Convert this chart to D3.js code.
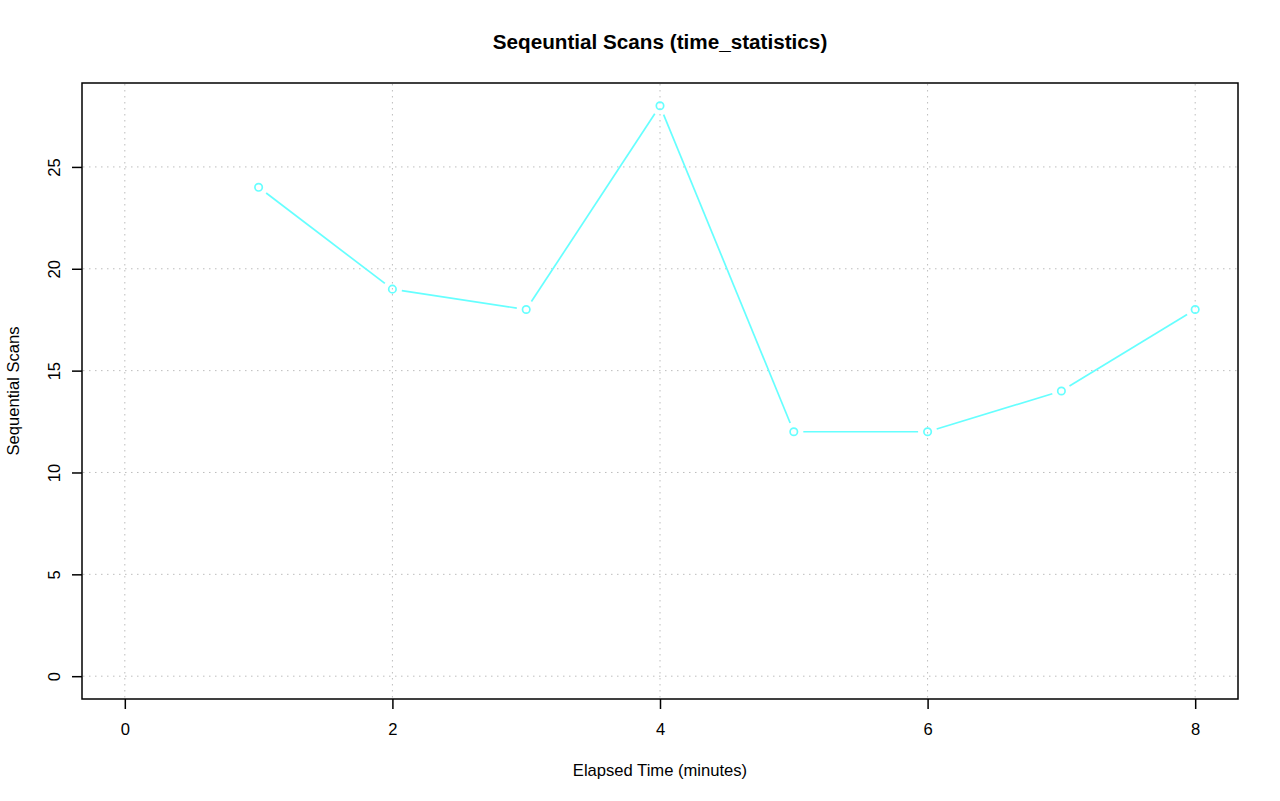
<!DOCTYPE html>
<meta charset="utf-8">
<style>
    body { margin: 0; background: #fff; }
    text { font-family: "Liberation Sans", Arial, Helvetica, sans-serif; fill: #000; }
    .grid line { stroke: #bdbdbd; stroke-width: 1; stroke-dasharray: 1.5,4.5; }
</style>
<svg width="1280" height="801"></svg>
<script src="https://cdn.jsdelivr.net/npm/d3@7"></script>
<script>

    // values
    var minutes = [1, 2, 3, 4, 5, 6, 7, 8];
    var scans = [24, 19, 18, 28, 12, 12, 14, 18];
    var xTicks = [0, 2, 4, 6, 8];
    var yTicks = [0, 5, 10, 15, 20, 25];

    const LINE_COLOR = "#66ffff";
    const POINT_RADIUS = 3.7;
    const GAP = 9.5;   // type="b" leaves a gap around every point
    const FONT_SIZE = 16.6;

    var svg = d3.select("svg");
    var box = {left: 82, right: 1238, top: 83, bottom: 699};

    // R extends the range by 4% on each side
    var x = d3.scaleLinear().domain([-0.32, 8.32]).range([box.left, box.right]);
    var y = d3.scaleLinear().domain([-1.12, 29.12]).range([box.bottom, box.top]);

    // dotted grid
    var grid = svg.append("g").attr("class", "grid");
    grid.selectAll("line.v")
        .data(xTicks)
        .enter().append("line")
        .attr("x1", function (d) { return x(d); })
        .attr("x2", function (d) { return x(d); })
        .attr("y1", box.top + 1)
        .attr("y2", box.bottom - 1);
    grid.selectAll("line.h")
        .data(yTicks)
        .enter().append("line")
        .attr("y1", function (d) { return y(d); })
        .attr("y2", function (d) { return y(d); })
        .attr("x1", box.left + 1)
        .attr("x2", box.right - 1);

    // axes (ticks + labels only, the box is drawn separately)
    var xAxis = svg.append("g")
        .attr("transform", "translate(0," + box.bottom + ")")
        .call(d3.axisBottom(x).tickValues(xTicks).tickSize(10).tickFormat(d3.format("d")));
    var yAxis = svg.append("g")
        .attr("transform", "translate(" + box.left + ",0)")
        .call(d3.axisLeft(y).tickValues(yTicks).tickSize(10).tickFormat(d3.format("d")));

    [xAxis, yAxis].forEach(function (a) {
        a.select(".domain").remove();
        a.selectAll(".tick line").attr("stroke", "#000").attr("stroke-width", 1.5);
        a.selectAll(".tick text")
            .attr("font-family", "Liberation Sans, Arial, sans-serif")
            .attr("font-size", FONT_SIZE);
    });

    xAxis.selectAll(".tick text").attr("dy", null).attr("y", 36);

    yAxis.selectAll(".tick text")
        .attr("x", null).attr("dy", null)
        .attr("text-anchor", "middle")
        .attr("transform", "translate(-22,0) rotate(-90)");

    // the plot box
    svg.append("rect")
        .attr("x", box.left)
        .attr("y", box.top)
        .attr("width", box.right - box.left)
        .attr("height", box.bottom - box.top)
        .attr("fill", "none")
        .attr("stroke", "#000")
        .attr("stroke-width", 1.5);

    // line segments with gaps at the points
    var pts = minutes.map(function (m, i) { return [x(m), y(scans[i])]; });
    var segs = d3.pairs(pts).map(function (p) {
        var dx = p[1][0] - p[0][0], dy = p[1][1] - p[0][1];
        var len = Math.sqrt(dx * dx + dy * dy);
        var ux = dx / len, uy = dy / len;
        return [p[0][0] + ux * GAP, p[0][1] + uy * GAP, p[1][0] - ux * GAP, p[1][1] - uy * GAP];
    });

    svg.append("g")
        .selectAll("line")
        .data(segs)
        .enter().append("line")
        .attr("x1", function (d) { return d[0]; })
        .attr("y1", function (d) { return d[1]; })
        .attr("x2", function (d) { return d[2]; })
        .attr("y2", function (d) { return d[3]; })
        .attr("stroke", LINE_COLOR)
        .attr("stroke-width", 1.7);

    svg.append("g")
        .selectAll("circle")
        .data(minutes)
        .enter().append("circle")
        .attr("cx", function (d) { return x(d); })
        .attr("cy", function (d, i) { return y(scans[i]); })
        .attr("r", POINT_RADIUS)
        .attr("fill", "none")
        .attr("stroke", LINE_COLOR)
        .attr("stroke-width", 1.7);

    // titles
    svg.append("text")
        .attr("x", (box.left + box.right) / 2)
        .attr("y", 49)
        .attr("text-anchor", "middle")
        .attr("font-size", 20.7)
        .attr("font-weight", "bold")
        .text("Seqeuntial Scans (time_statistics)");

    svg.append("text")
        .attr("x", (box.left + box.right) / 2)
        .attr("y", 776)
        .attr("text-anchor", "middle")
        .attr("font-size", FONT_SIZE)
        .text("Elapsed Time (minutes)");

    svg.append("text")
        .attr("transform", "translate(19," + ((box.top + box.bottom) / 2) + ") rotate(-90)")
        .attr("text-anchor", "middle")
        .attr("font-size", FONT_SIZE)
        .text("Sequential Scans");

</script>
